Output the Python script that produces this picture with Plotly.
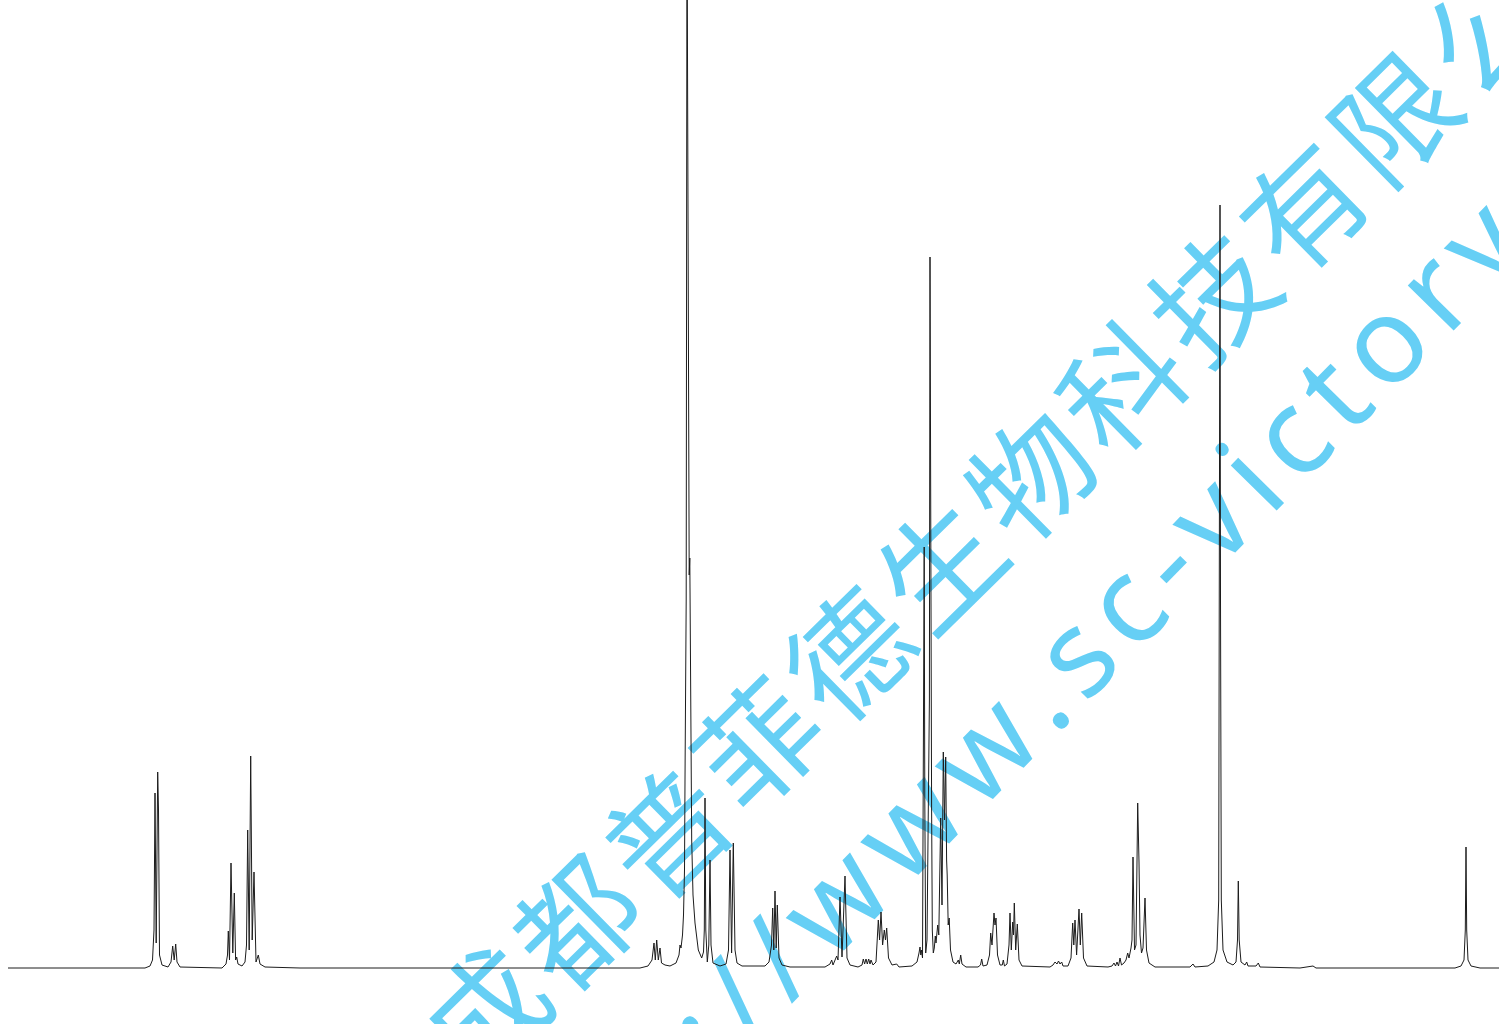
import plotly.graph_objects as go

# 1H NMR spectrum: chemical shift (ppm) and intensity (a.u.)
shift_ppm = [
    14.58, 13.21, 13.16, 13.135, 13.12, 13.11, 13.098, 13.083, 13.075, 13.065, 13.04,
    12.98, 12.95, 12.933, 12.918, 12.903, 12.89, 12.86,
    12.44, 12.40, 12.385, 12.377, 12.365, 12.35, 12.332, 12.317, 12.304, 12.293, 12.28,
    12.24, 12.21, 12.195, 12.183, 12.168, 12.153, 12.138, 12.12, 12.10, 12.077, 12.06, 12.01,
    11.66, 8.26, 8.18, 8.14, 8.12, 8.107, 8.093, 8.077, 8.06, 8.045, 8.01,
    7.96, 7.90, 7.87, 7.86, 7.85, 7.835, 7.825, 7.815, 7.81, 7.807, 7.803, 7.798,
    7.79, 7.778, 7.768, 7.762, 7.756, 7.743, 7.73, 7.71, 7.677, 7.643,
    7.625, 7.617, 7.61, 7.602, 7.587, 7.572, 7.56, 7.55, 7.53, 7.46,
    7.40, 7.375, 7.36, 7.344, 7.327, 7.31, 7.29, 7.24,
    7.01, 6.97, 6.945, 6.933, 6.922, 6.91, 6.898, 6.887, 6.87, 6.84, 6.76,
    6.41, 6.36, 6.343, 6.33, 6.315, 6.293, 6.28, 6.26, 6.24, 6.21, 6.19, 6.16, 6.08,
    6.04, 6.027, 6.014, 6.00, 5.987, 5.973, 5.96, 5.95, 5.93,
    5.90, 5.877, 5.864, 5.85, 5.834, 5.817, 5.805, 5.793, 5.775, 5.74, 5.693, 5.67,
    5.54, 5.49, 5.47, 5.46, 5.452, 5.445, 5.435, 5.424, 5.418, 5.412, 5.403,
    5.39, 5.377, 5.372, 5.366, 5.36, 5.355, 5.35, 5.344, 5.337, 5.327,
    5.317, 5.307, 5.30, 5.29, 5.283, 5.272, 5.253, 5.24, 5.227, 5.215, 5.203,
    5.194, 5.188, 5.178, 5.168, 5.155, 5.13, 5.10, 5.077, 5.067, 5.053, 5.04, 5.00,
    4.88, 4.855, 4.843, 4.83, 4.79, 4.765, 4.753, 4.74, 4.72, 4.71, 4.70, 4.685, 4.66,
    4.637, 4.627, 4.615, 4.59, 4.57, 4.56, 4.547, 4.533, 4.525, 4.517, 4.503, 4.487, 4.47, 4.44,
    4.16, 4.13, 4.11, 4.09, 4.075, 4.06, 4.043, 4.03,
    3.98, 3.95, 3.933, 3.922, 3.91, 3.894, 3.87, 3.857, 3.843, 3.825, 3.79,
    3.58, 3.54, 3.52, 3.505, 3.49, 3.475, 3.46, 3.445, 3.42, 3.40, 3.383, 3.37,
    3.35, 3.34, 3.33, 3.315, 3.30, 3.283, 3.27, 3.26, 3.245, 3.23, 3.21, 3.195, 3.17, 3.11,
    2.76, 2.73, 2.71, 2.58, 2.52, 2.49, 2.473, 2.465, 2.46, 2.455, 2.447, 2.43, 2.39,
    2.33, 2.30, 2.285, 2.277, 2.268, 2.25, 2.21, 2.193, 2.18, 2.10, 2.077, 2.06,
    1.66, 1.53, 1.50, 0.11, 0.05, 0.02, 0.007, 0.00, -0.007, -0.02, -0.05, -0.14, -0.40,
]

intensity = [
    0.0, 0.0, 0.2, 0.8, 3.8, 17.5, 2.5, 19.6, 15.8, 1.3, 0.3,
    0.1, 0.6, 2.2, 0.8, 2.4, 0.6, 0.1,
    0.0, 0.4, 1.3, 3.7, 0.8, 10.5, 1.5, 7.5, 0.8, 1.1, 0.4,
    0.2, 0.6, 2.3, 13.8, 1.8, 21.2, 2.8, 9.6, 0.6, 1.3, 0.4, 0.1,
    0.0, 0.0, 0.2, 0.8, 2.5, 0.8, 2.8, 0.8, 2.0, 0.5, 0.3,
    0.2, 0.5, 1.3, 2.3, 2.0, 3.3, 5.3, 9.8, 18.8, 25.5, 22.8, 36.8,
    106.8, 54.8, 39.3, 41.0, 26.8, 12.8, 7.3, 4.5, 1.8, 1.0,
    1.6, 3.8, 17.0, 3.8, 0.6, 2.3, 10.8, 2.3, 0.5, 0.2,
    0.4, 1.8, 11.8, 1.5, 12.5, 1.8, 0.5, 0.2,
    0.2, 0.6, 2.3, 6.0, 1.8, 7.7, 2.0, 6.3, 1.0, 0.3, 0.1,
    0.1, 0.4, 0.8, 0.3, 0.6, 1.2, 0.8, 7.1, 1.1, 9.2, 1.0, 0.3, 0.1,
    0.3, 0.9, 0.4, 0.9, 0.4, 0.9, 0.4, 0.8, 0.3,
    0.6, 4.8, 2.8, 5.6, 2.3, 3.8, 2.8, 4.0, 1.0, 0.3, 0.4, 0.1,
    0.2, 0.6, 1.5, 2.1, 1.3, 1.8, 1.0, 26.8, 42.1, 16.8, 1.5,
    2.8, 16.8, 25.5, 26.8, 71.1, 44.8, 51.6, 16.1, 3.8, 1.5,
    2.0, 3.2, 2.5, 3.8, 4.3, 3.3, 15.0, 6.3, 21.6, 14.8, 21.1,
    10.8, 9.3, 4.3, 5.0, 1.8, 0.6, 0.4, 0.8, 0.4, 1.3, 0.4, 0.1,
    0.1, 0.3, 0.9, 0.2, 0.3, 1.3, 3.5, 2.3, 5.5, 4.3, 5.0, 1.3, 0.3,
    0.3, 0.8, 0.2, 0.4, 2.3, 5.5, 1.8, 4.6, 3.3, 6.5, 1.8, 4.4, 0.8, 0.2,
    0.1, 0.3, 0.6, 0.4, 0.7, 0.4, 0.6, 0.2,
    0.2, 1.0, 4.5, 2.3, 4.8, 1.3, 5.9, 2.3, 5.5, 1.0, 0.2,
    0.1, 0.2, 0.5, 0.2, 0.6, 0.2, 1.0, 0.3, 0.5, 0.8, 1.5, 1.0,
    2.0, 2.8, 11.1, 1.8, 2.3, 16.5, 10.6, 3.3, 1.5, 2.0, 7.0, 1.8, 0.5, 0.1,
    0.1, 0.4, 0.1, 0.2, 0.6, 1.8, 6.8, 36.8, 76.3, 36.8, 6.8, 1.8, 0.6,
    0.3, 0.6, 2.8, 8.7, 2.8, 0.6, 0.3, 0.6, 0.2, 0.2, 0.5, 0.1,
    0.0, 0.2, 0.0, 0.0, 0.2, 0.8, 3.8, 12.1, 3.8, 0.8, 0.2, 0.0, 0.0,
]

watermark_lines = ["成都普菲德生物科技有限公司", "http://www.sc-victory.com"]

W, H = 1499, 1024

fig = go.Figure()
fig.add_trace(go.Scatter(
    x=shift_ppm, y=intensity, mode="lines",
    line=dict(color="#1c1c1c", width=1),
    hoverinfo="skip",
))


def px2paper(px, py):
    return px / W, 1 - py / H


HAIR = "\u200a"
# watermark: two rotated lines of letter-spaced text, drawn below the spectrum
wm_specs = [
    (watermark_lines[0], (1040, 485), -44.5, "Noto Sans CJK SC", 120),
    (watermark_lines[1], (1113, 622), -45.5, "Noto Sans", 120),
]
for text, (cx, cy), ang, fam, size in wm_specs:
    d = 300
    x0, y0 = px2paper(cx - d, cy + d)
    x1, y1 = px2paper(cx + d, cy - d)
    fig.add_shape(
        type="line", xref="paper", yref="paper",
        x0=x0, y0=y0, x1=x1, y1=y1,
        line=dict(width=0, color="rgba(0,0,0,0)"),
        layer="below",
        label=dict(
            text=HAIR.join(text),
            textangle=ang,
            textposition="middle",
            xanchor="center", yanchor="middle",
            font=dict(family=fam, size=size, color="rgb(102,207,245)"),
        ),
    )

fig.update_layout(
    width=W, height=H,
    margin=dict(l=0, r=0, t=0, b=0),
    paper_bgcolor="white", plot_bgcolor="white",
    showlegend=False,
    hovermode=False,
    xaxis=dict(range=[14.66, -0.33], visible=False, showgrid=False, zeroline=False),
    yaxis=dict(range=[-5.6, 96.8], visible=False, showgrid=False, zeroline=False),
)

# the page itself has no margin, so the figure fills the window exactly
fig.write_html(
    "out.html",
    config={"displayModeBar": False},
    post_script="document.body.style.margin='0';document.body.style.overflow='hidden';",
)
